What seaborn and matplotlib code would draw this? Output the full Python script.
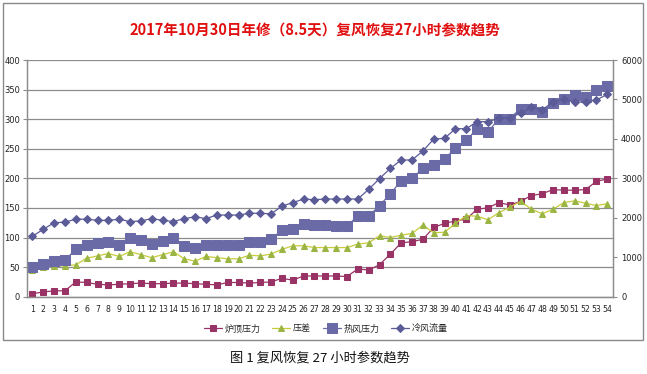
import matplotlib
matplotlib.use("Agg")
import matplotlib.pyplot as plt
import pandas as pd
import seaborn as sns
from matplotlib.patches import Rectangle
from matplotlib.ticker import FixedLocator, MultipleLocator

HOURS = list(range(1, 55))

TOP_PRESSURE = [
    5, 8, 10, 10, 25, 24, 21, 20, 21, 22, 23, 22, 22, 23, 23, 22, 21, 20, 24, 24,
    23, 24, 25, 31, 28, 35, 35, 35, 35, 34, 47, 45, 54, 72, 91, 93, 97, 117, 124, 128,
    131, 148, 150, 159, 155, 161, 171, 174, 181, 180, 180, 181, 195, 199,
]
PRESSURE_DIFF = [
    45, 50, 52, 52, 54, 65, 69, 73, 68, 76, 71, 66, 71, 76, 64, 60, 68, 66, 64, 64,
    70, 69, 72, 80, 86, 86, 83, 83, 83, 83, 89, 91, 103, 100, 104, 107, 121, 108, 109, 124,
    137, 136, 130, 142, 151, 161, 148, 140, 148, 159, 162, 158, 154, 157,
]
HOT_BLAST_PRESSURE = [
    50, 56, 61, 62, 80, 87, 90, 93, 87, 99, 96, 89, 94, 99, 86, 82, 88, 87, 88, 87,
    93, 93, 98, 112, 114, 123, 121, 121, 120, 120, 136, 136, 154, 174, 196, 200, 217, 223, 232, 252,
    265, 283, 279, 300, 301, 318, 318, 312, 328, 334, 341, 338, 349, 356,
]
COLD_BLAST_FLOW = [
    1530, 1710, 1875, 1890, 1965, 1965, 1935, 1935, 1965, 1905, 1920, 1980, 1935, 1905,
    1980, 2025, 1980, 2070, 2070, 2070, 2115, 2115, 2100, 2295, 2385, 2475, 2460, 2475,
    2476, 2476, 2476, 2721, 2992, 3254, 3465, 3465, 3693, 3997, 4014, 4259, 4259, 4436,
    4436, 4521, 4538, 4648, 4800, 4732, 4944, 5003, 4927, 4944, 4986, 5130,
]

TITLE = "2017年10月30日年修（8.5天）复风恢复27小时参数趋势"
CAPTION = "图 1 复风恢复 27 小时参数趋势"

sns.set_theme(style="white")
plt.rcParams["font.family"] = ["DejaVu Sans", "Noto Sans CJK SC"]

df = pd.DataFrame({
    "hour": HOURS,
    "炉顶压力": TOP_PRESSURE,
    "压差": PRESSURE_DIFF,
    "热风压力": HOT_BLAST_PRESSURE,
    "冷风流量": COLD_BLAST_FLOW,
})

fig = plt.figure(figsize=(6.47, 3.74), dpi=100)
ax = fig.add_axes([27 / 647, 1 - 296.7 / 374, 585.7 / 647, 236.7 / 374])
ax2 = ax.twinx()

GRID = "#8c8c8c"

left_styles = [
    ("炉顶压力", "#993366", "#993366", "s", 5),
    ("压差", "#c8cc3a", "#9bb544", "^", 5),
    ("热风压力", "#6a6aa6", "#6a6aa6", "s", 7.5),
]
for name, lc, mc, mk, ms in left_styles:
    sns.lineplot(data=df, x="hour", y=name, ax=ax, color=lc, marker=mk,
                 markersize=ms, markerfacecolor=mc, markeredgecolor=mc,
                 linewidth=0.9, label=name, legend=False)

sns.lineplot(data=df, x="hour", y="冷风流量", ax=ax2, color="#5b5b98",
             marker="D", markersize=4.5, markerfacecolor="#5b5b98",
             markeredgecolor="#5b5b98", linewidth=0.9, label="冷风流量",
             legend=False)

ax.set_xlim(0.5, 54.5)
ax.set_ylim(0, 400)
ax2.set_ylim(0, 6000)
ax.yaxis.set_major_locator(MultipleLocator(50))
ax2.yaxis.set_major_locator(MultipleLocator(1000))
ax.set_xticks(HOURS)
ax.set_xticklabels([str(h) for h in HOURS], fontsize=5.6, color="#222222")
ax.xaxis.set_minor_locator(FixedLocator([h - 0.5 for h in HOURS] + [54.5]))
ax.tick_params(axis="x", which="major", length=0, pad=6)
ax.tick_params(axis="x", which="minor", length=3, color=GRID, width=0.8, direction="out")
ax.tick_params(axis="y", length=3, color=GRID, width=0.8, labelsize=6, pad=2,
               labelcolor="#222222", left=True)
ax2.tick_params(axis="y", length=3, color=GRID, width=0.8, labelsize=6, pad=3,
                labelcolor="#222222", right=True)

ax.grid(axis="y", color=GRID, linewidth=0.9)
ax.set_axisbelow(True)
for a in (ax, ax2):
    a.set_xlabel("")
    a.set_ylabel("")
    a.spines["top"].set_visible(False)
    for s in ("left", "right", "bottom"):
        a.spines[s].set_color(GRID)
        a.spines[s].set_linewidth(0.9)

h1, l1 = ax.get_legend_handles_labels()
h2, l2 = ax2.get_legend_handles_labels()
fig.legend(h1 + h2, l1 + l2, loc="center", bbox_to_anchor=(326 / 647, 1 - 329 / 374),
           ncol=4, frameon=False, handlelength=2.0, columnspacing=1.3,
           handletextpad=0.3, prop={"family": ["Noto Sans CJK SC"], "size": 6.5})

fig.text(315 / 647, 1 - 30 / 374, TITLE, ha="center", va="center", color="#e01010",
         fontsize=10.5, fontweight="bold", family=["Noto Sans CJK SC"])
fig.text(320 / 647, 1 - 358 / 374, CAPTION, ha="center", va="center", color="#111111",
         fontsize=9.5, family=["Noto Sans CJK SC"])

fig.patches.append(Rectangle((3 / 647, 1 - 340 / 374), 640 / 647, 337 / 374,
                             transform=fig.transFigure, fill=False,
                             edgecolor="#8a8a8a", linewidth=1.0))

fig.savefig("out.png", dpi=100)
